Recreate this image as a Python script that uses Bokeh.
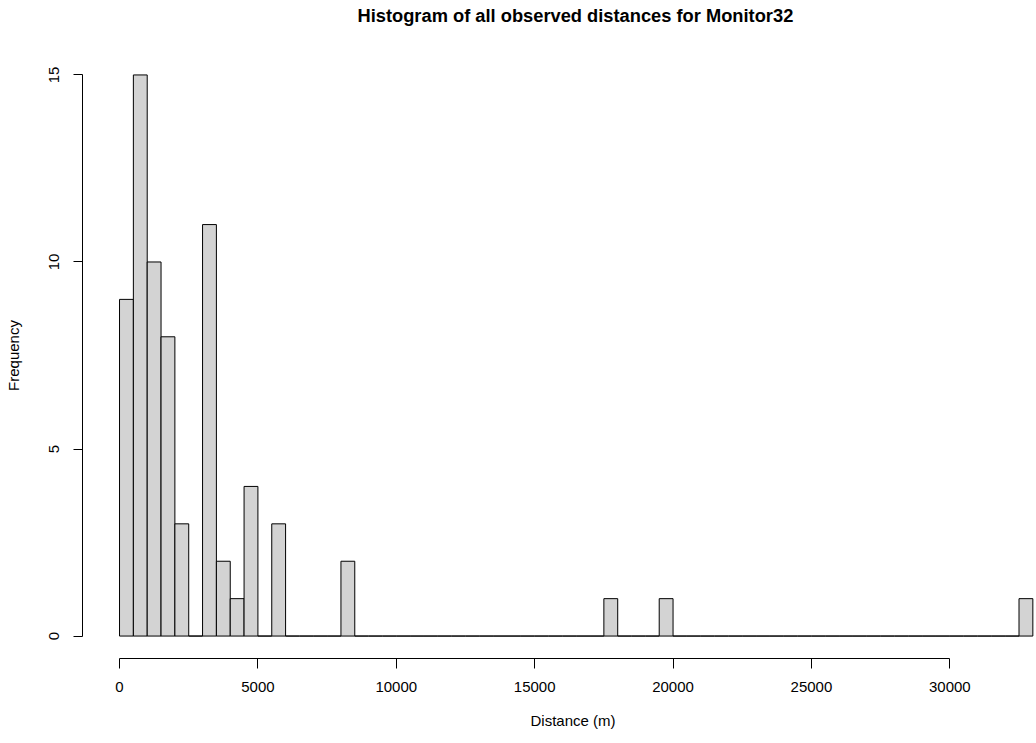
from bokeh.plotting import figure
from bokeh.models import Range1d, FixedTicker, Title, LinearAxis
from bokeh.embed import file_html
from bokeh.resources import INLINE

# ---- data ----
chart_title = "Histogram of all observed distances for Monitor32"
x_label = "Distance (m)"
y_label = "Frequency"
bin_width = 500
counts = [9, 15, 10, 8, 3, 0, 11, 2, 1, 4, 0, 3, 0, 0, 0, 0, 2, 0, 0, 0,
          0, 0, 0, 0, 0, 0, 0, 0, 0, 0, 0, 0, 0, 0, 0, 1, 0, 0, 0, 1,
          0, 0, 0, 0, 0, 0, 0, 0, 0, 0, 0, 0, 0, 0, 0, 0, 0, 0, 0, 0,
          0, 0, 0, 0, 0, 1]
x_ticks = [0, 5000, 10000, 15000, 20000, 25000, 30000]
y_ticks = [0, 5, 10, 15]

bin_left = [i * bin_width for i in range(len(counts))]
bin_right = [b + bin_width for b in bin_left]

FONT = "Liberation Sans"
W, H = 1036, 743
LEFT, TOP, BOTTOM = 82, 51, 84

p = figure(width=W, height=H, output_backend="svg", toolbar_location=None,
           x_range=Range1d(-1338, 33132), y_range=Range1d(-0.6, 15.6),
           x_axis_location=None, y_axis_location=None,
           min_border_left=LEFT, min_border_right=0, min_border_top=TOP,
           min_border_bottom=BOTTOM)
p.outline_line_color = None
p.xgrid.grid_line_color = None
p.ygrid.grid_line_color = None
p.background_fill_color = "white"
p.border_fill_color = "white"

p.quad(left=bin_left, right=bin_right, bottom=0, top=counts,
       fill_color="#d3d3d3", line_color="black", line_width=1)

xaxis = LinearAxis(ticker=FixedTicker(ticks=x_ticks), bounds=(0, 30000))
yaxis = LinearAxis(ticker=FixedTicker(ticks=y_ticks), bounds=(0, 15),
                   axis_label=y_label, major_label_orientation="vertical")
for ax in (xaxis, yaxis):
    ax.axis_line_color = "black"
    ax.major_tick_line_color = "black"
    ax.minor_tick_line_color = None
    ax.major_tick_in = 0
    ax.major_label_text_font = FONT
    ax.major_label_text_font_size = "15px"
    ax.major_label_text_color = "black"
    ax.axis_label_text_font = FONT
    ax.axis_label_text_font_size = "15px"
    ax.axis_label_text_font_style = "normal"
    ax.axis_label_text_color = "black"
xaxis.major_tick_out = 10
xaxis.major_label_standoff = 13
yaxis.major_tick_out = 9
yaxis.major_label_standoff = 14
yaxis.axis_label_standoff = 25
p.add_layout(xaxis, "below")
p.add_layout(yaxis, "left")

p.add_layout(Title(text=x_label, align="left", offset=448, text_font=FONT,
                   text_font_size="15px", text_font_style="normal",
                   text_color="black", standoff=30), "below")
# trailing empty line reserves space under the title so it sits near the top
p.add_layout(Title(text=chart_title + "\n", align="left", offset=275,
                   text_font=FONT, text_font_size="18.3px",
                   text_font_style="bold", text_color="black",
                   vertical_align="top", standoff=8), "above")

open("out.html", "w").write(file_html(p, INLINE))
